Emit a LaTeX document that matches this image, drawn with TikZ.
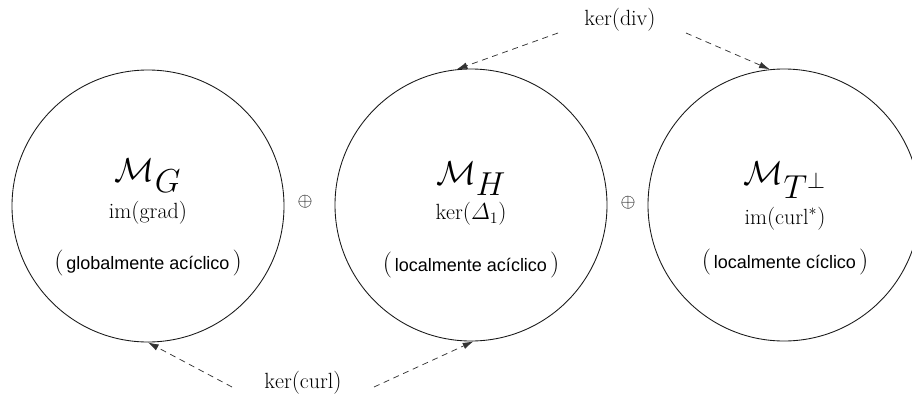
\documentclass[tikz,border=0pt]{standalone}
\usepackage{amsmath}
\usepackage{fontspec}
\newfontfamily\sansf{Liberation Sans}
\usetikzlibrary{arrows.meta}
\tikzset{
  space/.style={circle, draw=black!90, line width=0.65pt, minimum size=272*0.75pt, inner sep=0pt},
  bigm/.style={font=\fontsize{33}{38}\selectfont, inner sep=0pt},
  sub/.style={font=\fontsize{16.5}{19}\selectfont, inner sep=0pt},
  desc/.style={font=\fontsize{13.5}{16}\selectfont, inner sep=0pt},
  lbl/.style={font=\fontsize{16.5}{19}\selectfont, inner sep=1pt},
  link/.style={dashed, dash pattern=on 4.5pt off 3.5pt, line width=0.55pt, draw=black!80, -{Latex[length=8pt,width=5pt]}},
}
\newcommand{\parx}[1]{{\fontsize{19.5}{22}\selectfont(}\,{\sansf #1}\,{\fontsize{19.5}{22}\selectfont)}}
\begin{document}
\begin{tikzpicture}[x=0.75pt,y=-0.75pt]
\useasboundingbox (0,0) rectangle (912,400);
\fill[white] (0,0) rectangle (912,400);
\node[space] (cg) at (148,206) {};
\node[space] (ch) at (471,205) {};
\node[space] (ct) at (784,205) {};

\node[bigm] (mg) at (148,176) {$\mathcal{M}_G$};
\node[sub] (sg) at (148,213) {$\mathrm{im}(\mathrm{grad})$};
\node[desc] (dg) at (148,263) {\parx{globalmente acíclico}};

\node[bigm] (mh) at (471,179) {$\mathcal{M}_H$};
\node[sub] (sh) at (471,214) {$\ker(\varDelta_1)$};
\node[desc] (dh) at (471,265) {\parx{localmente acíclico}};

\node[bigm] (mt) at (785,180) {$\mathcal{M}_{T^\perp}$};
\node[sub] (st) at (785,219) {$\mathrm{im}(\mathrm{curl}^{*})$};
\node[desc] (dt) at (785,262) {\parx{localmente cíclico}};

\node[font=\fontsize{15}{18}\selectfont] (o1) at (305,202) {$\oplus$};
\node[font=\fontsize{15}{18}\selectfont] (o2) at (628,203) {$\oplus$};

\node[lbl] (kd) at (620,20) {$\ker(\mathrm{div})$};
\node[lbl] (kc) at (303,383) {$\ker(\mathrm{curl})$};

\coordinate (kd1) at (558,33);
\coordinate (kd2) at (686,33);
\coordinate (kc1) at (232,387);
\coordinate (kc2) at (374,387);

\draw[link] (kd1) -- (ch.96);
\draw[link] (kd2) -- (ct.96);
\draw[link] (kc1) -- (cg.-90.5);
\draw[link] (kc2) -- (ch.-89);
\end{tikzpicture}
\end{document}
